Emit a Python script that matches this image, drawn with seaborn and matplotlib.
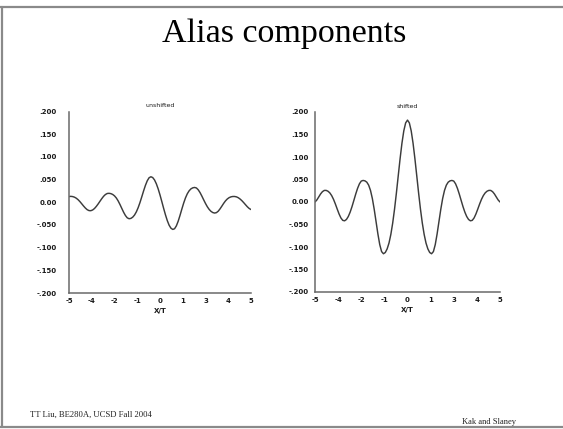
import numpy as np
import pandas as pd
import matplotlib
matplotlib.use("Agg")
import matplotlib.pyplot as plt
from matplotlib.lines import Line2D
import seaborn as sns

# ---------------- data ----------------
x_vals = [round(-5 + 0.1 * i, 1) for i in range(101)]

unshifted = [
    0.0125, 0.0130, 0.0125, 0.0112, 0.0089, 0.0056, 0.0014, -0.0034, -0.0083, -0.0128,
    -0.0164, -0.0184, -0.0186, -0.0170, -0.0138, -0.0092, -0.0038, 0.0021, 0.0079, 0.0131,
    0.0170, 0.0193, 0.0197, 0.0190, 0.0172, 0.0141, 0.0094, 0.0030, -0.0049, -0.0135,
    -0.0220, -0.0292, -0.0343, -0.0363, -0.0356, -0.0329, -0.0282, -0.0212, -0.0119, -0.0006,
    0.0121, 0.0252, 0.0373, 0.0473, 0.0540, 0.0562, 0.0544, 0.0491, 0.0406, 0.0294,
    0.0161, 0.0015, -0.0135, -0.0277, -0.0404, -0.0505, -0.0571, -0.0599, -0.0584, -0.0520,
    -0.0417, -0.0289, -0.0151, -0.0019, 0.0096, 0.0187, 0.0252, 0.0295, 0.0318, 0.0326,
    0.0315, 0.0275, 0.0213, 0.0136, 0.0053, -0.0027, -0.0099, -0.0157, -0.0200, -0.0227,
    -0.0238, -0.0229, -0.0197, -0.0145, -0.0085, -0.0023, 0.0031, 0.0073, 0.0102, 0.0119,
    0.0127, 0.0127, 0.0119, 0.0100, 0.0071, 0.0034, -0.0009, -0.0055, -0.0100, -0.0137,
    -0.0161,
]

shifted = [
    0.0000, 0.0045, 0.0111, 0.0178, 0.0229, 0.0257, 0.0258, 0.0240, 0.0203, 0.0143,
    0.0060, -0.0043, -0.0156, -0.0265, -0.0354, -0.0408, -0.0418, -0.0388, -0.0322, -0.0225,
    -0.0103, 0.0035, 0.0175, 0.0302, 0.0403, 0.0465, 0.0479, 0.0470, 0.0441, 0.0375,
    0.0257, 0.0077, -0.0161, -0.0435, -0.0711, -0.0947, -0.1102, -0.1150, -0.1122, -0.1042,
    -0.0912, -0.0720, -0.0467, -0.0156, 0.0201, 0.0585, 0.0964, 0.1307, 0.1581, 0.1758,
    0.1820,
    0.1758, 0.1581, 0.1307, 0.0964, 0.0585, 0.0201, -0.0156, -0.0467, -0.0720,
    -0.0912, -0.1042, -0.1122, -0.1150, -0.1102, -0.0947, -0.0711, -0.0435, -0.0161, 0.0077,
    0.0257, 0.0375, 0.0441, 0.0470, 0.0479, 0.0465, 0.0403, 0.0302, 0.0175, 0.0035,
    -0.0103, -0.0225, -0.0322, -0.0388, -0.0418, -0.0408, -0.0354, -0.0265, -0.0156, -0.0043,
    0.0060, 0.0143, 0.0203, 0.0240, 0.0258, 0.0257, 0.0229, 0.0178, 0.0111, 0.0045,
    0.0000,
]

x_tick_pos = [-5, -3.75, -2.5, -1.25, 0, 1.25, 2.5, 3.75, 5]
x_tick_labels = ["-5", "-4", "-2", "-1", "0", "1", "3", "4", "5"]
y_tick_pos = [0.2, 0.15, 0.1, 0.05, 0.0, -0.05, -0.1, -0.15, -0.2]
y_tick_labels = [".200", ".150", ".100", ".050", "0.00", "-.050", "-.100", "-.150", "-.200"]

title_text = "Alias components"
panel_titles = ["unshifted", "shifted"]
x_label = "X/T"
footer_left = "TT Liu, BE280A, UCSD Fall 2004"
footer_right = "Kak and Slaney"

# ---------------- figure ----------------
sns.set_style("white")
plt.rcParams["font.family"] = ["DejaVu Sans"]

W, H = 563, 429
fig = plt.figure(figsize=(W / 100, H / 100), dpi=100)
fig.patch.set_facecolor("white")

def fx(px):
    return px / W

def fy(py):
    return 1 - py / H

# slide border (left, top, bottom)
border_kw = dict(color="#8a8a8a", linewidth=1.6, transform=fig.transFigure)
fig.add_artist(Line2D([fx(1.5), fx(1.5)], [fy(7), fy(427)], **border_kw))
fig.add_artist(Line2D([fx(0), fx(563)], [fy(7), fy(7)], **border_kw))
fig.add_artist(Line2D([fx(0), fx(563)], [fy(427), fy(427)], **border_kw))

fig.text(fx(284), fy(42), title_text, ha="center", va="baseline",
         fontsize=24.5, family="Liberation Serif", color="black")
fig.text(fx(30), fy(417), footer_left, ha="left", va="baseline",
         fontsize=6.2, family="Liberation Serif", color="#222")
fig.text(fx(516), fy(424), footer_right, ha="right", va="baseline",
         fontsize=6.1, family="Liberation Serif", color="#222")

panels = [
    dict(rect=(69, 111.5, 251, 293), series=unshifted, title=panel_titles[0], ypad=9),
    dict(rect=(315, 112, 500, 292), series=shifted, title=panel_titles[1], ypad=4.5),
]

for p in panels:
    x0, y0, x1, y1 = p["rect"]
    ax = fig.add_axes([fx(x0), fy(y1), fx(x1) - fx(x0), fy(y0) - fy(y1)])
    df = pd.DataFrame({"x": x_vals, "y": p["series"]})
    sns.lineplot(data=df, x="x", y="y", ax=ax, color="#3c3c3c", linewidth=1.05)
    ax.set_xlim(-5, 5)
    ax.set_ylim(-0.2, 0.2)
    ax.set_facecolor("none")
    for s in ["top", "right"]:
        ax.spines[s].set_visible(False)
    for s in ["left", "bottom"]:
        ax.spines[s].set_color("#6a6a6a")
        ax.spines[s].set_linewidth(1.1)
    ax.set_xticks(x_tick_pos)
    ax.set_xticklabels(x_tick_labels)
    ax.set_yticks(y_tick_pos)
    ax.set_yticklabels(y_tick_labels)
    ax.tick_params(axis="both", which="both", direction="in", length=2,
                   width=0.6, color="#666", labelsize=5, labelcolor="#1a1a1a")
    ax.tick_params(axis="y", pad=p["ypad"])
    ax.tick_params(axis="x", pad=3.5)
    for lab in ax.get_xticklabels() + ax.get_yticklabels():
        lab.set_fontweight("bold")
    ax.set_xlabel(x_label, fontsize=5, fontweight="bold", color="#1a1a1a", labelpad=3)
    ax.set_ylabel("")
    ax.set_title(p["title"], fontsize=4.5, color="#1a1a1a", pad=3)
    ax.grid(False)

fig.savefig("out.png", dpi=100, facecolor="white")
